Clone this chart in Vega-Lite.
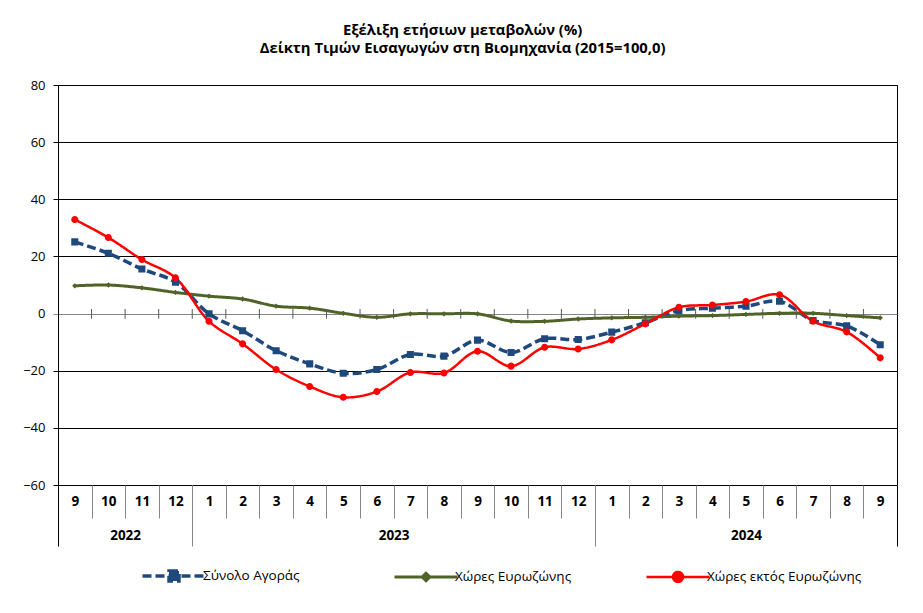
{
  "$schema": "https://vega.github.io/schema/vega-lite/v6.json",
  "width": 839,
  "height": 400,
  "autosize": {"type": "none"},
  "padding": {"left": 58, "top": 85, "right": 26, "bottom": 128},
  "background": "white",
  "config": {
    "font": "Open Sans",
    "view": {"stroke": "black", "strokeWidth": 1},
    "axis": {"labelColor": "black", "labelFont": "Open Sans"}
  },
  "title": {
    "text": ["Εξέλιξη ετήσιων μεταβολών (%)", "Δείκτη Τιμών Εισαγωγών στη Βιομηχανία (2015=100,0)"],
    "font": "Open Sans",
    "fontSize": 14.8,
    "fontWeight": "bold",
    "color": "black",
    "anchor": "middle",
    "frame": "bounds",
    "lineHeight": 18,
    "offset": 23
  },
  "resolve": {"scale": {"x": "independent"}},
  "layer": [
    {
      "data": {
        "values": [
          {"m": "2022-09", "Σύνολο Αγοράς": 25.1, "Χώρες Ευρωζώνης": 9.7, "Χώρες εκτός Ευρωζώνης": 32.9},
          {"m": "2022-10", "Σύνολο Αγοράς": 21.1, "Χώρες Ευρωζώνης": 10.0, "Χώρες εκτός Ευρωζώνης": 26.6},
          {"m": "2022-11", "Σύνολο Αγοράς": 15.6, "Χώρες Ευρωζώνης": 9.0, "Χώρες εκτός Ευρωζώνης": 18.9},
          {"m": "2022-12", "Σύνολο Αγοράς": 11.0, "Χώρες Ευρωζώνης": 7.4, "Χώρες εκτός Ευρωζώνης": 12.5},
          {"m": "2023-01", "Σύνολο Αγοράς": -0.1, "Χώρες Ευρωζώνης": 6.1, "Χώρες εκτός Ευρωζώνης": -2.7},
          {"m": "2023-02", "Σύνολο Αγοράς": -6.0, "Χώρες Ευρωζώνης": 5.1, "Χώρες εκτός Ευρωζώνης": -10.6},
          {"m": "2023-03", "Σύνολο Αγοράς": -13.0, "Χώρες Ευρωζώνης": 2.6, "Χώρες εκτός Ευρωζώνης": -19.6},
          {"m": "2023-04", "Σύνολο Αγοράς": -17.6, "Χώρες Ευρωζώνης": 1.9, "Χώρες εκτός Ευρωζώνης": -25.5},
          {"m": "2023-05", "Σύνολο Αγοράς": -20.9, "Χώρες Ευρωζώνης": 0.1, "Χώρες εκτός Ευρωζώνης": -29.3},
          {"m": "2023-06", "Σύνολο Αγοράς": -19.6, "Χώρες Ευρωζώνης": -1.3, "Χώρες εκτός Ευρωζώνης": -27.3},
          {"m": "2023-07", "Σύνολο Αγοράς": -14.3, "Χώρες Ευρωζώνης": -0.1, "Χώρες εκτός Ευρωζώνης": -20.6},
          {"m": "2023-08", "Σύνολο Αγοράς": -14.9, "Χώρες Ευρωζώνης": -0.1, "Χώρες εκτός Ευρωζώνης": -20.8},
          {"m": "2023-09", "Σύνολο Αγοράς": -9.3, "Χώρες Ευρωζώνης": -0.1, "Χώρες εκτός Ευρωζώνης": -13.2},
          {"m": "2023-10", "Σύνολο Αγοράς": -13.6, "Χώρες Ευρωζώνης": -2.6, "Χώρες εκτός Ευρωζώνης": -18.4},
          {"m": "2023-11", "Σύνολο Αγοράς": -8.8, "Χώρες Ευρωζώνης": -2.7, "Χώρες εκτός Ευρωζώνης": -11.8},
          {"m": "2023-12", "Σύνολο Αγοράς": -9.1, "Χώρες Ευρωζώνης": -1.9, "Χώρες εκτός Ευρωζώνης": -12.4},
          {"m": "2024-01", "Σύνολο Αγοράς": -6.5, "Χώρες Ευρωζώνης": -1.5, "Χώρες εκτός Ευρωζώνης": -9.2},
          {"m": "2024-02", "Σύνολο Αγοράς": -3.2, "Χώρες Ευρωζώνης": -1.3, "Χώρες εκτός Ευρωζώνης": -3.6},
          {"m": "2024-03", "Σύνολο Αγοράς": 1.0, "Χώρες Ευρωζώνης": -0.9, "Χώρες εκτός Ευρωζώνης": 2.2},
          {"m": "2024-04", "Σύνολο Αγοράς": 1.9, "Χώρες Ευρωζώνης": -0.7, "Χώρες εκτός Ευρωζώνης": 3.0},
          {"m": "2024-05", "Σύνολο Αγοράς": 2.6, "Χώρες Ευρωζώνης": -0.3, "Χώρες εκτός Ευρωζώνης": 4.2},
          {"m": "2024-06", "Σύνολο Αγοράς": 4.3, "Χώρες Ευρωζώνης": 0.1, "Χώρες εκτός Ευρωζώνης": 6.6},
          {"m": "2024-07", "Σύνολο Αγοράς": -2.4, "Χώρες Ευρωζώνης": 0.1, "Χώρες εκτός Ευρωζώνης": -2.7},
          {"m": "2024-08", "Σύνολο Αγοράς": -4.3, "Χώρες Ευρωζώνης": -0.7, "Χώρες εκτός Ευρωζώνης": -6.4},
          {"m": "2024-09", "Σύνολο Αγοράς": -10.9, "Χώρες Ευρωζώνης": -1.5, "Χώρες εκτός Ευρωζώνης": -15.5}
        ]
      },
      "transform": [
        {"fold": ["Σύνολο Αγοράς", "Χώρες Ευρωζώνης", "Χώρες εκτός Ευρωζώνης"], "as": ["s", "v"]}
      ],
      "encoding": {
        "x": {
          "field": "m",
          "type": "ordinal",
          "scale": {"paddingInner": 0, "paddingOuter": 0},
          "axis": {
            "title": null,
            "orient": "bottom",
            "labelExpr": "toNumber(split(datum.value, '-')[1])",
            "labelAngle": 0,
            "tickBand": "extent",
            "tickSize": 33,
            "tickColor": "#868686",
            "domain": false,
            "grid": false,
            "labelFontSize": 13.5,
            "labelFontWeight": "bold",
            "labelPadding": -24
          }
        },
        "y": {
          "field": "v",
          "type": "quantitative",
          "scale": {"domain": [-60, 80], "nice": false, "zero": false},
          "axis": {
            "title": null,
            "values": [-60, -40, -20, 0, 20, 40, 60, 80],
            "grid": true,
            "gridColor": {"condition": {"test": "datum.value === 0", "value": "#868686"}, "value": "black"},
            "gridOpacity": 1,
            "tickSize": 5,
            "tickColor": {"condition": {"test": "datum.value === 0", "value": "#868686"}, "value": "black"},
            "domainColor": "black",
            "labelFontSize": 13,
            "labelPadding": 8
          }
        }
      },
      "layer": [
        {
          "mark": {"type": "line", "interpolate": "catmull-rom"},
          "encoding": {
            "color": {
              "field": "s",
              "type": "nominal",
              "scale": {
                "domain": ["Σύνολο Αγοράς", "Χώρες Ευρωζώνης", "Χώρες εκτός Ευρωζώνης"],
                "range": ["#1F497D", "#4F6228", "#FF0000"]
              },
              "legend": {
                "title": null,
                "orient": "none",
                "legendX": 109,
                "legendY": 484,
                "direction": "horizontal",
                "columns": 3,
                "gridAlign": "all",
                "columnPadding": 30,
                "labelOffset": 22,
                "labelFontSize": 13.5,
                "labelColor": "black",
                "labelFont": "Open Sans",
                "symbolOpacity": 1,
                "symbolStrokeWidth": 2
              }
            },
            "strokeDash": {
              "field": "s",
              "type": "nominal",
              "scale": {
                "domain": ["Σύνολο Αγοράς", "Χώρες Ευρωζώνης", "Χώρες εκτός Ευρωζώνης"],
                "range": [[9, 4], [1, 0], [1, 0]]
              },
              "legend": null
            },
            "strokeWidth": {
              "field": "s",
              "type": "nominal",
              "scale": {
                "domain": ["Σύνολο Αγοράς", "Χώρες Ευρωζώνης", "Χώρες εκτός Ευρωζώνης"],
                "range": [3.5, 2.5, 1.5]
              },
              "legend": null
            }
          }
        },
        {
          "mark": {"type": "point", "filled": true, "opacity": 1, "size": 50},
          "encoding": {
            "color": {
              "field": "s",
              "type": "nominal",
              "legend": null
            },
            "shape": {
              "field": "s",
              "type": "nominal",
              "scale": {
                "domain": ["Σύνολο Αγοράς", "Χώρες Ευρωζώνης", "Χώρες εκτός Ευρωζώνης"],
                "range": [
                  "M-6.3,0H6.3M-1,-1H1V1H-1Z",
                  "M-6.3,0H6.3M0,-0.75L0.75,0L0,0.75L-0.75,0Z",
                  "M-6.3,0H6.3M-1,0A1,1 0 1,0 1,0A1,1 0 1,0 -1,0Z"
                ]
              },
              "legend": null
            }
          }
        }
      ]
    },
    {
      "data": {
        "values": [
          {"b": 1}, {"b": 2}, {"b": 3}, {"b": 4}, {"b": 5}, {"b": 6}, {"b": 7}, {"b": 8},
          {"b": 9}, {"b": 10}, {"b": 11}, {"b": 12}, {"b": 13}, {"b": 14}, {"b": 15}, {"b": 16},
          {"b": 17}, {"b": 18}, {"b": 19}, {"b": 20}, {"b": 21}, {"b": 22}, {"b": 23}, {"b": 24}
        ]
      },
      "mark": {"type": "rule", "color": "#595959", "strokeWidth": 1},
      "encoding": {
        "x": {
          "field": "b",
          "type": "quantitative",
          "scale": {"domain": [0, 25], "nice": false, "zero": false},
          "axis": {
            "title": null,
            "orient": "bottom",
            "values": [0, 4, 16, 25],
            "labels": false,
            "domain": false,
            "grid": false,
            "tickSize": 61,
            "tickColor": {"condition": {"test": "datum.value === 0 || datum.value === 25", "value": "black"}, "value": "#868686"}
          }
        },
        "y": {"datum": 1.6, "type": "quantitative"},
        "y2": {"datum": -1.8}
      }
    },
    {
      "data": {
        "values": [
          {"year": "2022", "mid": 2},
          {"year": "2023", "mid": 10},
          {"year": "2024", "mid": 20.5}
        ]
      },
      "mark": {"type": "point", "opacity": 0},
      "encoding": {
        "x": {
          "field": "mid",
          "type": "quantitative",
          "scale": {"domain": [0, 25], "nice": false, "zero": false},
          "axis": {
            "title": null,
            "orient": "bottom",
            "values": [2, 10, 20.5],
            "labelExpr": "datum.value === 2 ? '2022' : datum.value === 10 ? '2023' : '2024'",
            "ticks": false,
            "domain": false,
            "grid": false,
            "labelPadding": 43,
            "labelFontSize": 13.5,
            "labelFontWeight": "bold"
          }
        },
        "y": {"datum": 0, "type": "quantitative"}
      }
    }
  ]
}
